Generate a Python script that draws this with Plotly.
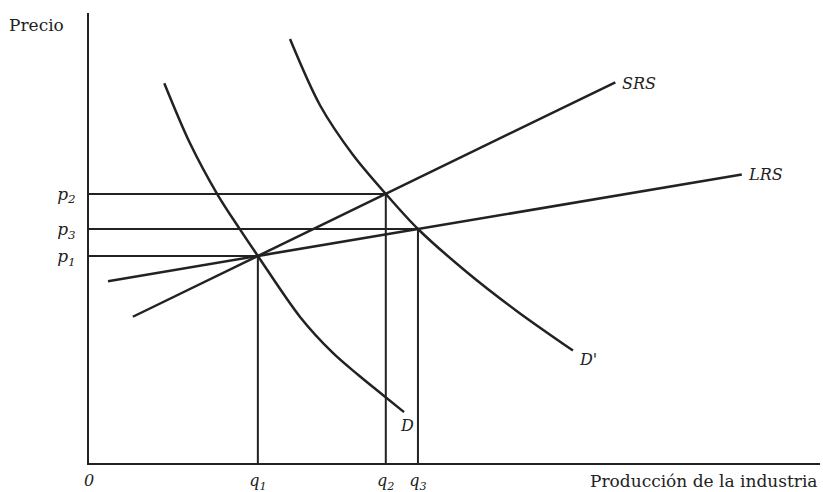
import plotly.graph_objects as go

# Equilibrium quantities and prices
q_vals = [23.1, 40.6, 45.0]          # q1, q2, q3
p_vals = [46.0, 59.8, 52.0]          # p1, p2, p3
q_text = ["q<sub>1</sub>", "q<sub>2</sub>", "q<sub>3</sub>"]
p_text = ["p<sub>1</sub>", "p<sub>2</sub>", "p<sub>3</sub>"]

# Short-run and long-run supply
srs_x = [6.0, 23.1, 40.6, 72.0]
srs_y = [32.5, 46.0, 59.8, 84.6]
lrs_x = [2.6, 23.1, 45.0, 89.3]
lrs_y = [40.4, 46.0, 52.0, 64.1]

# Original demand D and shifted demand D'
d_x = [10.3, 13.8, 17.6, 20.7, 23.1, 28.9, 33.4, 36.8, 40.2, 43.1]
d_y = [84.4, 71.1, 59.6, 51.8, 46.0, 32.4, 24.4, 19.6, 15.1, 11.3]
d2_x = [27.5, 31.6, 36.1, 40.6, 45.0, 51.7, 58.5, 66.2]
d2_y = [94.2, 79.5, 68.5, 59.8, 52.0, 42.4, 33.8, 25.0]

INK = "#222222"
SERIF = "DejaVu Serif"

fig = go.Figure()

# Dropped guide lines from each equilibrium to both axes
for q, p in zip(q_vals, p_vals):
    fig.add_trace(go.Scatter(x=[0, q, q], y=[p, p, 0], mode="lines",
                             line=dict(color=INK, width=2), hoverinfo="skip"))

for xs, ys in [(srs_x, srs_y), (lrs_x, lrs_y)]:
    fig.add_trace(go.Scatter(x=xs, y=ys, mode="lines",
                             line=dict(color=INK, width=2.5), hoverinfo="skip"))

for xs, ys in [(d_x, d_y), (d2_x, d2_y)]:
    fig.add_trace(go.Scatter(x=xs, y=ys, mode="lines",
                             line=dict(color=INK, width=2.5, shape="spline", smoothing=0.9),
                             hoverinfo="skip"))

curve_font = dict(family=SERIF, size=16, color=INK, style="italic")
labels = [
    ("SRS", srs_x[-1] + 0.6, srs_y[-1] - 0.3),
    ("LRS", lrs_x[-1] + 0.6, lrs_y[-1]),
    ("D", d_x[-1] - 0.8, d_y[-1] - 3.0),
    ("D'", d2_x[-1] + 0.6, d2_y[-1] - 1.9),
]
for txt, x, y in labels:
    fig.add_annotation(x=x, y=y, text=txt, showarrow=False, xanchor="left",
                       yanchor="middle", font=curve_font)

fig.add_annotation(xref="paper", yref="paper", x=-0.112, y=0.973, text="Precio",
                   showarrow=False, xanchor="left", yanchor="middle",
                   font=dict(family=SERIF, size=17, color=INK))
fig.add_annotation(xref="paper", yref="paper", x=0.998, y=-0.041,
                   text="Producción de la industria", showarrow=False,
                   xanchor="right", yanchor="middle", borderpad=0,
                   font=dict(family=SERIF, size=17, color=INK))

fig.update_layout(
    width=823, height=492,
    margin=dict(l=89, r=3, t=13, b=29, autoexpand=False),
    paper_bgcolor="white", plot_bgcolor="white",
    showlegend=False,
    xaxis=dict(range=[0, 100], showgrid=False, zeroline=False, automargin=False,
               showline=True, linecolor=INK, linewidth=2,
               tickvals=[0] + q_vals, ticktext=["0"] + q_text,
               ticks="", ticklabelstandoff=2,
               tickfont=dict(family=SERIF, size=16, color=INK, style="italic")),
    yaxis=dict(range=[0, 100], showgrid=False, zeroline=False, automargin=False,
               showline=True, linecolor=INK, linewidth=2,
               tickvals=p_vals, ticktext=p_text,
               ticks="", ticklabelstandoff=8,
               tickfont=dict(family=SERIF, size=17, color=INK, style="italic")),
)

fig.write_html("out.html")
